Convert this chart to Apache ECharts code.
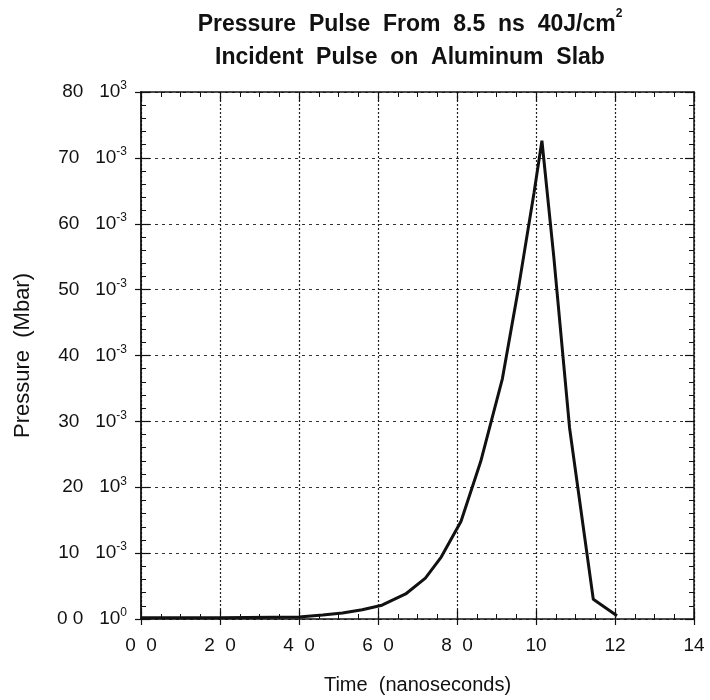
<!DOCTYPE html>
<html>
<head>
<meta charset="utf-8">
<script src="https://cdn.jsdelivr.net/npm/echarts@6/dist/echarts.min.js"></script>
<style>html,body{margin:0;padding:0;background:#fff}#c{width:710px;height:700px}</style>
</head>
<body>
<div id="c"></div>
<script>
// Data (time in ns, pressure in units of 10^-3 Mbar)
var timeNs = [0, 2.0, 4.0, 4.6, 5.1, 5.6, 6.1, 6.7, 7.2, 7.6, 8.1, 8.6, 9.15, 9.55, 9.95, 10.15, 10.45, 10.85, 11.45, 12.05];
var pressure = [0.2, 0.2, 0.3, 0.6, 0.9, 1.4, 2.1, 3.8, 6.2, 9.4, 14.8, 23.9, 36.5, 50.0, 64.7, 72.6, 55.0, 29.0, 3.0, 0.5];
var xTickLabels = ['0  0', '2  0', '4  0', '6  0', '8  0', '10', '12', '14'];
var yTickNumbers = ['0 0', '10', '20', '30', '40', '50', '60', '70', '80'];
var yTickExponents = ['0', '-3', '3', '-3', '-3', '-3', '-3', '-3', '3'];
var titleLine1 = 'Pressure  Pulse  From  8.5  ns  40J/cm';
var titleSup = '2';
var titleLine2 = 'Incident  Pulse  on  Aluminum  Slab';
var xName = 'Time  (nanoseconds)';
var yName = 'Pressure  (Mbar)';

var FONT = 'Liberation Sans, Arial, Helvetica, sans-serif';
var chart = echarts.init(document.getElementById('c'));
var seriesData = timeNs.map(function (t, i) { return [t, pressure[i]]; });
var gridLeft = 141, gridRight = 16, gridTop = 92, gridBottom = 80;
chart.setOption({
  animation: false,
  backgroundColor: '#fff',
  title: {
    text: '{t|' + titleLine1 + '}{s|' + titleSup + '}\n{t|' + titleLine2 + '}',
    left: 405, top: 3, textAlign: 'center',
    textStyle: {
      rich: {
        t: { fontFamily: FONT, fontWeight: 'bold', fontSize: 23, color: '#111', lineHeight: 33 },
        s: { fontFamily: FONT, fontWeight: 'bold', fontSize: 12, color: '#111', lineHeight: 18, verticalAlign: 'top' }
      }
    }
  },
  grid: { left: gridLeft, right: gridRight, top: gridTop, bottom: gridBottom },
  xAxis: [
    {
      type: 'value', min: 0, max: 14, interval: 2,
      name: xName, nameLocation: 'middle', nameGap: 56,
      nameTextStyle: { fontFamily: FONT, fontSize: 20, color: '#111' },
      axisLine: { show: true, lineStyle: { color: '#111', width: 1.5 } },
      axisTick: { show: true, inside: false, length: 6, lineStyle: { color: '#111', width: 1.2 } },
      axisLabel: {
        margin: 17, fontFamily: FONT, fontSize: 19, color: '#111',
        formatter: function (v) { return xTickLabels[Math.round(v / 2)] || ''; }
      },
      splitLine: { show: true, lineStyle: { color: '#222', type: [2, 2], width: 1.2 } }
    },
    {
      type: 'value', min: 0, max: 14, interval: 2, position: 'bottom',
      axisLine: { show: false }, axisLabel: { show: false }, splitLine: { show: false },
      axisTick: { show: true, inside: true, length: 9, lineStyle: { color: '#111', width: 1.2 } },
      minorTick: { show: true, splitNumber: 4, length: 5, lineStyle: { color: '#111', width: 1 } }
    },
    {
      type: 'value', min: 0, max: 14, interval: 2, position: 'top',
      axisLine: { show: true, onZero: false, lineStyle: { color: '#111', width: 1.5 } },
      axisLabel: { show: false }, splitLine: { show: false },
      axisTick: { show: true, inside: true, length: 9, lineStyle: { color: '#111', width: 1.2 } },
      minorTick: { show: true, splitNumber: 4, length: 5, lineStyle: { color: '#111', width: 1 } }
    }
  ],
  yAxis: [
    {
      type: 'value', min: 0, max: 80, interval: 10,
      name: yName, nameLocation: 'middle', nameGap: 107, nameRotate: 90,
      nameTextStyle: { fontFamily: FONT, fontSize: 22, color: '#111' },
      axisLine: { show: true, lineStyle: { color: '#111', width: 1.8 } },
      axisTick: { show: true, inside: false, length: 6, lineStyle: { color: '#111', width: 1.2 } },
      axisLabel: {
        margin: 14, fontFamily: FONT, fontSize: 19, color: '#111',
        formatter: function (v) {
          var i = Math.round(v / 10);
          return '{n|' + yTickNumbers[i] + '}   {n|10}{s|' + yTickExponents[i] + '}';
        },
        rich: {
          n: { fontFamily: FONT, fontSize: 19, color: '#111', lineHeight: 24 },
          s: { fontFamily: FONT, fontSize: 12, color: '#111', lineHeight: 13, verticalAlign: 'top' }
        }
      },
      splitLine: { show: true, lineStyle: { color: '#333', type: [3, 4], width: 1.2 } }
    },
    {
      type: 'value', min: 0, max: 80, interval: 10, position: 'left',
      axisLine: { show: false }, axisLabel: { show: false }, splitLine: { show: false },
      axisTick: { show: true, inside: true, length: 9, lineStyle: { color: '#111', width: 1.2 } },
      minorTick: { show: true, splitNumber: 5, length: 5, lineStyle: { color: '#111', width: 1 } }
    },
    {
      type: 'value', min: 0, max: 80, interval: 10, position: 'right',
      axisLine: { show: true, onZero: false, lineStyle: { color: '#111', width: 1.5 } },
      axisLabel: { show: false }, splitLine: { show: false },
      axisTick: { show: true, inside: true, length: 9, lineStyle: { color: '#111', width: 1.2 } },
      minorTick: { show: true, splitNumber: 5, length: 5, lineStyle: { color: '#111', width: 1 } }
    }
  ],
  series: [{
    type: 'line', xAxisIndex: 0, yAxisIndex: 0,
    data: seriesData, showSymbol: false, symbol: 'none',
    lineStyle: { color: '#111', width: 3 }, z: 5
  }]
});
</script>
</body>
</html>
